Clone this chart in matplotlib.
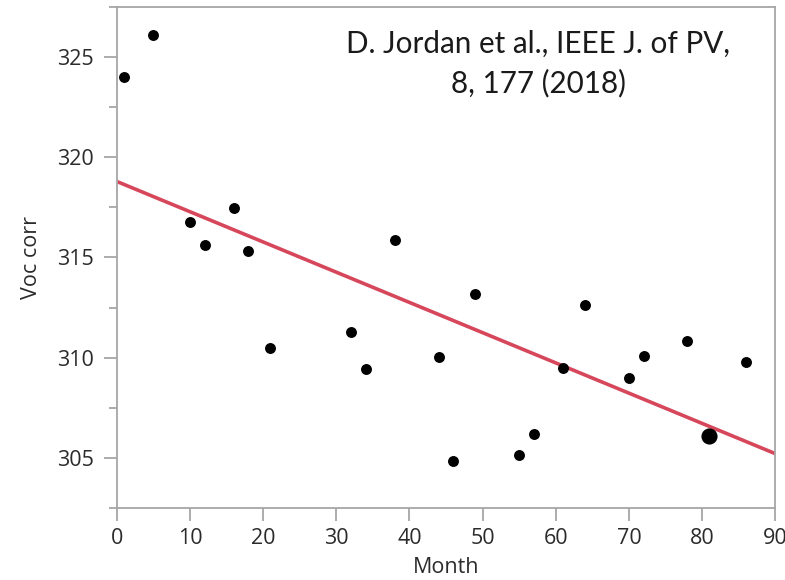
import matplotlib
matplotlib.use("Agg")
import matplotlib.pyplot as plt
from matplotlib.ticker import MultipleLocator

# data
month = [1, 5, 10, 12, 16, 18, 21, 32, 34, 38, 44, 46, 49, 55, 57, 61, 64, 70, 72, 78, 86]
voc_corr = [324.0, 326.1, 316.75, 315.6, 317.45, 315.3, 310.5, 311.3, 309.45, 315.85,
            310.05, 304.85, 313.2, 305.15, 306.2, 309.5, 312.65, 309.0, 310.1, 310.85, 309.8]
# the one larger (doubled) point
big_month = [81]
big_voc = [306.1]
# fitted trend line end points
fit_month = [0, 90]
fit_voc = [318.8, 305.2]

x_ticks = [0, 10, 20, 30, 40, 50, 60, 70, 80, 90]
y_ticks = [305, 310, 315, 320, 325]
note = "D. Jordan et al., IEEE J. of PV,\n8, 177 (2018)"

plt.rcParams["font.family"] = ["Open Sans", "DejaVu Sans"]

fig = plt.figure(figsize=(7.85, 5.8), dpi=100)
ax = fig.add_axes([0.1487, 0.1247, 0.8389, 0.8627])

ax.plot(fit_month, fit_voc, color="#d6475b", lw=2.6, zorder=2, solid_capstyle="butt")
ax.scatter(month, voc_corr, s=62, color="black", zorder=3, linewidths=0)
ax.scatter(big_month, big_voc, s=135, color="black", zorder=3, linewidths=0)

ax.set_xlim(0, 90)
ax.set_ylim(302.5, 327.5)
ax.set_xticks(x_ticks)
ax.set_yticks(y_ticks)
ax.yaxis.set_minor_locator(MultipleLocator(2.5))

grey = "#a6a6a6"
for s in ax.spines.values():
    s.set_color(grey)
    s.set_linewidth(1.3)
ax.tick_params(axis="both", which="major", length=9.5, width=1.3, color=grey,
               labelsize=15.5, labelcolor="#2b2b2b")
ax.tick_params(axis="y", which="major", pad=7)
ax.tick_params(axis="x", which="major", pad=5)
ax.tick_params(axis="y", which="minor", length=6, width=1.3, color=grey)

ax.set_xlabel("Month", fontsize=15.5, color="#2b2b2b", labelpad=6)
ax.set_ylabel("Voc corr", fontsize=15.5, color="#2b2b2b", labelpad=11)

ax.text(0.64, 0.887, note, transform=ax.transAxes, ha="center", va="center",
        multialignment="center", fontsize=21.3, family="Lato", color="#1a1a1a",
        linespacing=1.45)

fig.savefig("out.png", dpi=100)
